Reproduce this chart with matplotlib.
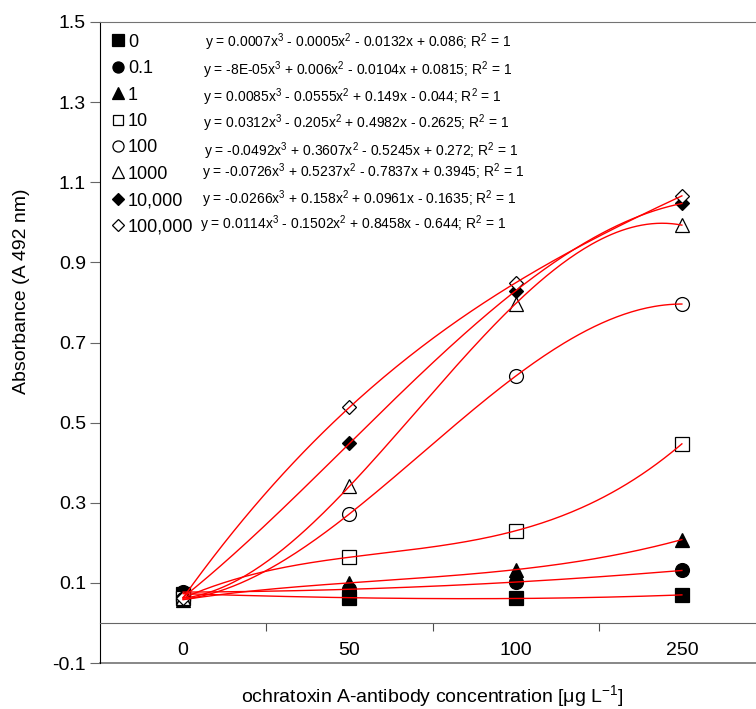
import numpy as np
import matplotlib
matplotlib.use('Agg')
import matplotlib.pyplot as plt

plt.rcParams['font.family'] = ['Liberation Sans', 'DejaVu Sans']
plt.rcParams['mathtext.fontset'] = 'custom'
plt.rcParams['mathtext.rm'] = 'Liberation Sans'
plt.rcParams['mathtext.it'] = 'Liberation Sans:italic'

# categories on x (antibody concentration, ug/L)
conc_labels = ['0', '50', '100', '250']
xpos = np.array([1, 2, 3, 4])

# absorbance for each ochratoxin A concentration series
series_names = ['0', '0.1', '1', '10', '100', '1000', '10,000', '100,000']
abs_0 = [0.073, 0.063, 0.061, 0.070]
abs_01 = [0.077, 0.084, 0.102, 0.131]
abs_1 = [0.058, 0.100, 0.133, 0.208]
abs_10 = [0.062, 0.164, 0.230, 0.447]
abs_100 = [0.059, 0.272, 0.616, 0.796]
abs_1000 = [0.062, 0.341, 0.797, 0.993]
abs_10000 = [0.064, 0.448, 0.829, 1.047]
abs_100000 = [0.063, 0.538, 0.849, 1.066]
all_series = [abs_0, abs_01, abs_1, abs_10, abs_100, abs_1000, abs_10000, abs_100000]

equations = [
    r'y = 0.0007x$^3$ - 0.0005x$^2$ - 0.0132x + 0.086; R$^2$ = 1',
    r'y = -8E-05x$^3$ + 0.006x$^2$ - 0.0104x + 0.0815; R$^2$ = 1',
    r'y = 0.0085x$^3$ - 0.0555x$^2$ + 0.149x - 0.044; R$^2$ = 1',
    r'y = 0.0312x$^3$ - 0.205x$^2$ + 0.4982x - 0.2625; R$^2$ = 1',
    r'y = -0.0492x$^3$ + 0.3607x$^2$ - 0.5245x + 0.272; R$^2$ = 1',
    r'y = -0.0726x$^3$ + 0.5237x$^2$ - 0.7837x + 0.3945; R$^2$ = 1',
    r'y = -0.0266x$^3$ + 0.158x$^2$ + 0.0961x - 0.1635; R$^2$ = 1',
    r'y = 0.0114x$^3$ - 0.1502x$^2$ + 0.8458x - 0.644; R$^2$ = 1',
]

markers = ['s', 'o', '^', 's', 'o', '^', 'D', 'D']
fills = ['k', 'k', 'k', 'w', 'w', 'w', 'k', 'w']
msizes = [10, 10, 10, 9.5, 10, 10.5, 7.5, 7.5]

fig = plt.figure(figsize=(7.56, 7.09), dpi=100)
ax = fig.add_axes([100/756, 46/709, 665/756, 641/709])

xx = np.linspace(1, 4, 200)
for name, vals, m, fc, ms in zip(series_names, all_series, markers, fills, msizes):
    ax.plot(xpos, vals, ls='none', marker=m, mfc=fc, mec='k', mew=0.9, ms=ms,
            label=name, zorder=2)
    coef = np.polyfit(xpos, vals, 3)
    ax.plot(xx, np.polyval(coef, xx), color='red', lw=1.0, zorder=3)

ax.set_xlim(0.5, 4.5)
ax.set_ylim(-0.1, 1.5)
ax.set_yticks(np.arange(-0.1, 1.51, 0.2))
ax.set_yticklabels(['%.1f' % v for v in np.arange(-0.1, 1.51, 0.2)])
ax.tick_params(axis='y', direction='out', length=7, width=0.8, color='0.4',
               labelsize=14, pad=3)

# x axis drawn on y = 0
ax.spines['bottom'].set_position(('data', 0))
ax.spines['bottom'].set_color('0.4')
ax.spines['top'].set_color('0.45')
ax.spines['right'].set_color('0.45')
ax.spines['left'].set_color('k')
ax.axhline(-0.1, color='0.45', lw=1.2, clip_on=False, zorder=1)
ax.set_xticks(xpos)
ax.set_xticklabels(conc_labels)
ax.set_xticks([1.5, 2.5, 3.5], minor=True)
ax.tick_params(axis='x', which='major', length=0, labelsize=14, pad=14)
ax.tick_params(axis='x', which='minor', length=6, width=0.8, color='0.3')

ax.set_ylabel('Absorbance (A 492 nm)', fontsize=14)
ax.yaxis.set_label_coords(-0.105, 0.58)
ax.set_xlabel('ochratoxin A-antibody concentration [\u03bcg L$^{-1}$]', fontsize=14)
ax.xaxis.set_label_coords(0.5, -0.031)

leg = ax.legend(loc='upper left', bbox_to_anchor=(0.0, 1.0), frameon=False,
                fontsize=13, markerscale=0.8, handlelength=0.7,
                handletextpad=0.2, borderaxespad=0.25, labelspacing=0.52)

eq_y = [0.969, 0.925, 0.883, 0.842, 0.799, 0.765, 0.724, 0.684]
eq_x = [0.158, 0.155, 0.155, 0.155, 0.156, 0.153, 0.153, 0.150]
for ex, ey, eq in zip(eq_x, eq_y, equations):
    ax.text(ex, ey, eq, transform=ax.transAxes, fontsize=10, va='center', ha='left')

fig.savefig('out.png', dpi=100)
